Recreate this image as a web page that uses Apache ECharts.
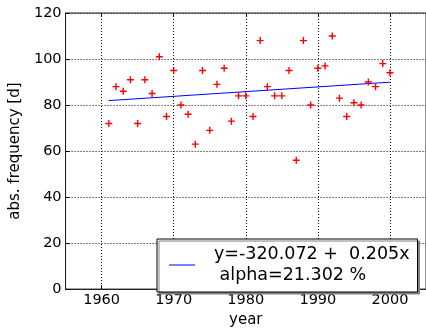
<!DOCTYPE html>
<html>
<head>
<meta charset="utf-8">
<script src="https://cdn.jsdelivr.net/npm/echarts@6/dist/echarts.min.js"></script>
<style>
html,body{margin:0;padding:0;background:#fff;}
#chart{width:426px;height:333px;}
</style>
</head>
<body>
<div id="chart"></div>
<script>
var years = [1961,1962,1963,1964,1965,1966,1967,1968,1969,1970,
             1971,1972,1973,1974,1975,1976,1977,1978,1979,1980,
             1981,1982,1983,1984,1985,1986,1987,1988,1989,1990,
             1991,1992,1993,1994,1995,1996,1997,1998,1999,2000];
var frequency = [72,88,86,91,72,91,85,101,75,95,
                 80,76,63,95,69,89,96,73,84,84,
                 75,108,88,84,84,95,56,108,80,96,
                 97,110,83,75,81,80,90,88,98,94];
var fitYears = [1961, 2000];
var fitValues = [81.93, 89.93];
var xTicks = [1960, 1970, 1980, 1990, 2000];
var yTicks = [0, 20, 40, 60, 80, 100, 120];
var fitLabel = ['y=-320.072 +  0.205x', ' alpha=21.302 %'];

var FONT = 'DejaVu Sans';
var chart = echarts.init(document.getElementById('chart'), null, {renderer: 'canvas'});

var scatterData = years.map(function (y, i) { return [y, frequency[i]]; });
var fitData = fitYears.map(function (y, i) { return [y, fitValues[i]]; });

var option = {
  backgroundColor: '#fff',
  animation: false,
  grid: {
    left: 59, top: 13, width: 372, height: 288,
    show: true, borderColor: '#222', borderWidth: 1, backgroundColor: 'transparent'
  },
  legend: {
    data: [{name: 'fit', icon: 'rect'}],
    left: 157, top: 239,
    orient: 'vertical',
    backgroundColor: '#fff',
    borderColor: '#000',
    borderWidth: 1,
    borderRadius: 0,
    padding: [5, 8, 6, 12],
    shadowColor: '#808080',
    shadowOffsetX: 2,
    shadowOffsetY: 2,
    shadowBlur: 0,
    itemWidth: 26,
    itemHeight: 1,
    itemStyle: {color: '#0000ff', borderWidth: 0},
    lineStyle: {width: 0},
    formatter: function () { return fitLabel.join('\n'); },
    textStyle: {
      fontFamily: FONT, fontSize: 17.5, color: '#000', lineHeight: 21,
      padding: [0, 0, 0, 14]
    }
  },
  xAxis: [{
    type: 'value', min: 1955, max: 2005,
    name: 'year', nameLocation: 'middle', nameGap: 17,
    nameTextStyle: {fontFamily: FONT, fontSize: 15, color: '#000'},
    axisLine: {show: true, lineStyle: {color: '#222', width: 1}},
    axisTick: {show: true, inside: true, length: 4, customValues: xTicks, lineStyle: {color: '#000'}},
    axisLabel: {customValues: xTicks, fontFamily: FONT, fontSize: 14.5, color: '#000', margin: 4,
      formatter: function (v) { return String(v); }},
    splitLine: {show: true, lineStyle: {color: '#000', width: 1, type: [1, 2]}}
  }, {
    type: 'value', min: 1955, max: 2005, position: 'top',
    axisLine: {show: false},
    axisTick: {show: true, inside: true, length: 4, customValues: xTicks, lineStyle: {color: '#000'}},
    axisLabel: {show: false},
    splitLine: {show: false}
  }],
  yAxis: [{
    type: 'value', min: 0, max: 120, interval: 20,
    name: 'abs. frequency [d]', nameLocation: 'middle', nameGap: 28,
    nameTextStyle: {fontFamily: FONT, fontSize: 15, color: '#000'},
    axisLine: {show: true, lineStyle: {color: '#222', width: 1}},
    axisTick: {show: true, inside: true, length: 4, lineStyle: {color: '#000'}},
    axisLabel: {fontFamily: FONT, fontSize: 14.5, color: '#000', margin: 4,
      formatter: function (v) { return yTicks.indexOf(v) >= 0 ? String(v) : ''; }},
    splitLine: {show: true, lineStyle: {color: '#000', width: 1, type: [1, 2]}}
  }],
  series: [{
    name: 'data',
    type: 'scatter',
    data: scatterData,
    symbol: 'path://M4,0h2v4h4v2h-4v4h-2v-4h-4v-2h4z',
    symbolSize: 7,
    itemStyle: {color: '#ff0000', opacity: 1},
    z: 3
  }, {
    name: 'fit',
    type: 'line',
    data: fitData,
    showSymbol: false,
    symbol: 'none',
    lineStyle: {color: '#0000ff', width: 1},
    itemStyle: {color: '#0000ff'},
    z: 2
  }]
};
chart.setOption(option);
</script>
</body>
</html>
